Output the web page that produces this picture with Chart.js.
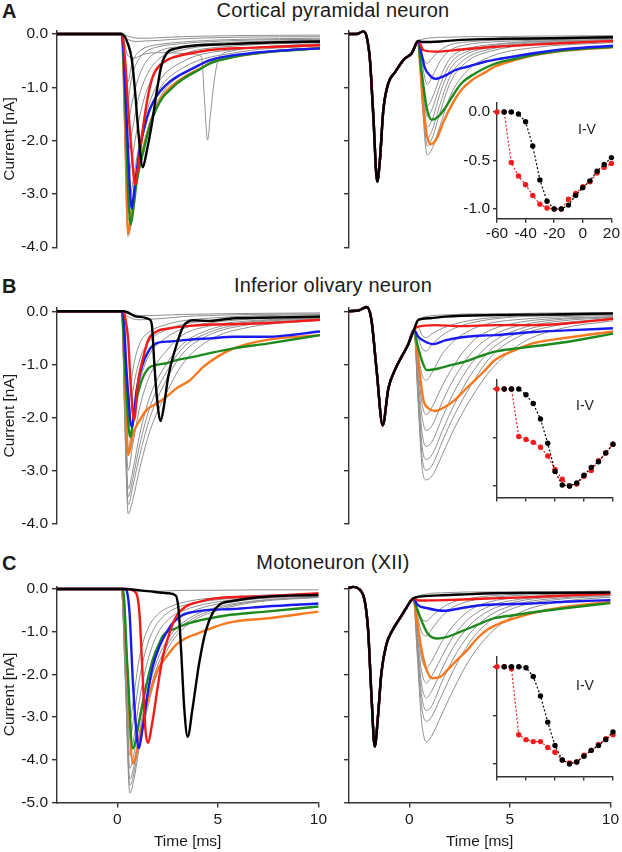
<!DOCTYPE html>
<html>
<head>
<meta charset="utf-8">
<script src="https://cdn.jsdelivr.net/npm/chart.js@4.4.1/dist/chart.umd.min.js"></script>
<style>
  body { margin: 0; background: #fff; width: 622px; height: 852px; position: relative; overflow: hidden;
         font-family: "Liberation Sans", Arial, sans-serif; color: #1a1a1a; }
  canvas { position: absolute; }
  .lbl { position: absolute; white-space: nowrap; }
  .title { font-size: 20px; line-height: 20px; left: 183px; width: 300px; text-align: center; letter-spacing: 0.2px; }
  .letter { font-size: 20px; line-height: 20px; font-weight: bold; left: 2px; }
  .iv { font-size: 14px; line-height: 14px; width: 40px; text-align: center; }
</style>
</head>
<body>
<div class="lbl letter" style="top:1px">A</div>
<div class="lbl title" style="top:0px">Cortical pyramidal neuron</div>
<div class="lbl letter" style="top:276px">B</div>
<div class="lbl title" style="top:275px">Inferior olivary neuron</div>
<div class="lbl letter" style="top:553px">C</div>
<div class="lbl title" style="top:552px">Motoneuron (XII)</div>

<script>
// ---------- tick values ----------
const xTicks = [0, 5, 10];
const yTicksAB = [0, -1, -2, -3, -4];
const yTicksC = [0, -1, -2, -3, -4, -5];
const ivXTicks = [-60, -40, -20, 0, 20];
const ivYTicks = [0, -0.5, -1];

// ---------- A: cortical pyramidal neuron, left (single step) [t ms, I nA] ----------
const aL_black = [[-3,0],[0.2,0],[0.52,-0.2],[0.69,-0.46],[0.86,-1.08],[1.02,-1.83],[1.24,-2.5],[1.43,-2.21],[1.68,-1.71],[1.93,-1.08],[2.17,-0.58],[2.42,-0.36],[2.92,-0.27],[3.74,-0.22],[5.5,-0.19],[7.5,-0.16],[10,-0.14]];
const aL_red = [[-3,0],[0.2,0],[0.36,-0.46],[0.52,-1.39],[0.69,-2.21],[0.86,-2.83],[1.02,-2.46],[1.27,-1.71],[1.51,-1.14],[1.76,-0.77],[2.09,-0.58],[2.59,-0.46],[3.24,-0.39],[3.9,-0.34],[4.56,-0.3],[6.5,-0.26],[8.5,-0.23],[10,-0.21]];
const aL_blue = [[-3,0],[0.2,0],[0.4,-1.2],[0.55,-2.5],[0.69,-3.27],[0.86,-2.8],[1.1,-2.14],[1.43,-1.58],[1.76,-1.27],[2.09,-1.08],[2.59,-0.89],[3.08,-0.77],[3.74,-0.64],[4.56,-0.49],[6.57,-0.36],[8.5,-0.3],[10,-0.27]];
const aL_green = [[-3,0],[0.2,0],[0.4,-1.6],[0.52,-3.0],[0.64,-3.58],[0.8,-3.2],[0.94,-2.77],[1.27,-2.2],[1.6,-1.71],[1.93,-1.39],[2.25,-1.18],[2.59,-1.05],[2.92,-0.93],[3.41,-0.8],[4.07,-0.66],[4.56,-0.55],[5.74,-0.43],[7.39,-0.34],[10,-0.27]];
const aL_orange = [[-3,0],[0.2,0],[0.35,-1.5],[0.52,-3.74],[0.7,-3.3],[0.94,-2.7],[1.27,-2.15],[1.6,-1.68],[1.93,-1.36],[2.25,-1.15],[2.59,-1.0],[2.92,-0.9],[3.41,-0.78],[4.07,-0.65],[4.56,-0.55],[5.74,-0.43],[7.39,-0.34],[10,-0.26]];
const aL_grayT = [-3, 0.2, 0.35, 0.5, 0.7, 1.0, 1.4, 2.0, 3.2, 6, 10];
const aL_gray = [
  [0,0,-0.45,-0.9,-0.55,-0.35,-0.25,-0.2,-0.15,-0.1,-0.08],
  [0,0,-0.6,-1.2,-0.8,-0.5,-0.33,-0.24,-0.18,-0.12,-0.1],
  [0,0,-0.85,-1.7,-1.3,-0.85,-0.52,-0.33,-0.23,-0.15,-0.12],
  [0,0,-1.1,-2.2,-1.85,-1.25,-0.8,-0.48,-0.3,-0.18,-0.14],
  [0,0,-1.35,-2.7,-2.35,-1.7,-1.1,-0.66,-0.38,-0.22,-0.16],
  [0,0,-1.6,-3.2,-2.9,-2.2,-1.5,-0.92,-0.52,-0.28,-0.2],
  [0,0,-1.75,-3.5,-3.2,-2.4,-1.7,-1.08,-0.64,-0.34,-0.22],
  [0,0,-1.9,-3.8,-3.5,-2.6,-1.9,-1.25,-0.75,-0.4,-0.25],
  [0,0,-0.02,-0.04,-0.06,-0.08,-0.08,-0.07,-0.05,-0.03,-0.02],
  [0,0,-0.05,-0.1,-0.13,-0.14,-0.13,-0.12,-0.09,-0.06,-0.05]
];
const aL_graySpike = [[-3,0],[0.2,0],[0.5,-0.4],[0.8,-0.45],[1.3,-0.38],[2,-0.35],[3,-0.36],[3.9,-0.38],[4.15,-0.45],[4.3,-1.3],[4.44,-1.99],[4.6,-1.45],[4.8,-0.8],[5.0,-0.45],[5.5,-0.33],[7,-0.25],[10,-0.18]];

// ---------- A: right (double step) ----------
const aR_pre = [[-3,0],[-2.63,0],[-2.3,0.05],[-2.13,-0.05],[-1.97,-0.48],[-1.8,-1.55],[-1.61,-2.77],[-1.48,-2.37],[-1.31,-1.43],[-1.07,-0.93],[-0.74,-0.72],[-0.3,-0.48],[0.09,-0.36],[0.41,-0.13]];
const aR_black = [[0.6,-0.15],[1.5,-0.14],[2.55,-0.11],[4.5,-0.09],[7,-0.08],[10,-0.06]];
const aR_red = [[0.66,-0.3],[1.24,-0.33],[2.55,-0.29],[4.2,-0.24],[6.1,-0.2],[7.7,-0.17],[10,-0.13]];
const aR_blue = [[0.58,-0.39],[0.74,-0.64],[0.99,-0.78],[1.24,-0.84],[1.73,-0.78],[2.22,-0.68],[2.88,-0.61],[3.7,-0.52],[4.52,-0.46],[6.08,-0.36],[7.72,-0.28],[10,-0.22]];
const aR_green = [[0.5,-0.46],[0.66,-0.96],[0.83,-1.39],[1.07,-1.61],[1.4,-1.55],[1.73,-1.39],[2.14,-1.14],[2.55,-0.92],[3.21,-0.74],[3.86,-0.61],[4.52,-0.52],[5.26,-0.46],[6.08,-0.39],[7.72,-0.3],[10,-0.24]];
const aR_orange = [[0.5,-0.58],[0.66,-1.39],[0.83,-1.89],[1.04,-2.07],[1.32,-1.96],[1.65,-1.65],[2.06,-1.33],[2.55,-1.04],[3.04,-0.87],[3.7,-0.72],[4.19,-0.61],[5.26,-0.48],[6.08,-0.4],[7.72,-0.31],[10,-0.25]];
const aR_grayT = [0.6, 0.85, 1.1, 1.5, 2.0, 2.8, 4.0, 6.0, 10];
const aR_gray = [
  [-0.4,-0.55,-0.45,-0.3,-0.2,-0.15,-0.12,-0.1,-0.07],
  [-0.55,-0.95,-0.8,-0.5,-0.3,-0.2,-0.15,-0.12,-0.08],
  [-0.75,-1.35,-1.2,-0.8,-0.45,-0.28,-0.2,-0.14,-0.1],
  [-0.85,-1.55,-1.4,-0.95,-0.55,-0.33,-0.22,-0.15,-0.11],
  [-0.95,-1.75,-1.6,-1.1,-0.65,-0.38,-0.25,-0.17,-0.12],
  [-1.05,-1.95,-1.8,-1.3,-0.78,-0.45,-0.28,-0.18,-0.13],
  [-1.15,-2.1,-1.95,-1.45,-0.9,-0.52,-0.32,-0.2,-0.14],
  [-1.25,-2.27,-2.15,-1.7,-1.15,-0.7,-0.42,-0.26,-0.16],
  [-0.1,-0.08,-0.07,-0.06,-0.06,-0.05,-0.05,-0.04,-0.03]
];

// ---------- B: inferior olivary neuron, left ----------
const bL_black = [[-3,0],[0.3,0],[0.94,-0.1],[1.6,-0.16],[1.7,-0.3],[1.82,-1.05],[1.95,-1.67],[2.12,-2.07],[2.28,-1.8],[2.5,-1.23],[2.83,-0.73],[3.24,-0.29],[3.74,-0.17],[4.56,-0.18],[5.74,-0.13],[7.5,-0.12],[10,-0.1]];
const bL_red = [[-3,0],[0.25,0],[0.36,-0.1],[0.52,-0.54],[0.64,-1.36],[0.81,-2.05],[1.02,-1.3],[1.27,-0.86],[1.51,-0.54],[1.93,-0.38],[2.59,-0.32],[3.41,-0.28],[4.56,-0.25],[6,-0.24],[7.5,-0.22],[10,-0.16]];
const bL_blue = [[-3,0],[0.25,0],[0.45,-1.2],[0.69,-2.18],[0.94,-1.48],[1.19,-1.05],[1.51,-0.76],[1.93,-0.6],[2.59,-0.57],[3.41,-0.54],[4.56,-0.51],[5.74,-0.48],[7.39,-0.48],[10,-0.38]];
const bL_green = [[-3,0],[0.2,0],[0.38,-1.2],[0.61,-2.37],[0.86,-1.8],[1.19,-1.3],[1.51,-1.08],[1.93,-1.01],[2.42,-0.98],[2.92,-0.92],[3.74,-0.86],[4.56,-0.79],[5.74,-0.7],[7.39,-0.61],[10,-0.45]];
const bL_orange = [[-3,0],[0.2,0],[0.35,-1.2],[0.52,-2.71],[0.77,-2.3],[1.1,-2.05],[1.43,-1.86],[1.93,-1.74],[2.42,-1.61],[2.92,-1.45],[3.57,-1.3],[4.23,-1.05],[4.92,-0.86],[5.74,-0.7],[7.39,-0.54],[10,-0.45]];
const bL_grayT = [-3, 0.2, 0.35, 0.52, 0.75, 1.1, 1.6, 2.4, 3.2, 4.5, 6.5, 10];
const bL_gray = [
  [0,0,-1.0,-1.8,-1.1,-0.6,-0.38,-0.25,-0.18,-0.13,-0.09,-0.06],
  [0,0,-1.2,-2.2,-1.5,-0.9,-0.55,-0.35,-0.25,-0.18,-0.12,-0.08],
  [0,0,-1.4,-2.6,-2.0,-1.3,-0.8,-0.5,-0.33,-0.22,-0.15,-0.1],
  [0,0,-1.6,-3.0,-2.5,-1.8,-1.2,-0.75,-0.45,-0.28,-0.18,-0.12],
  [0,0,-1.8,-3.35,-3.0,-2.3,-1.6,-1.0,-0.62,-0.35,-0.2,-0.13],
  [0,0,-1.9,-3.5,-3.15,-2.5,-1.8,-1.15,-0.7,-0.4,-0.22,-0.14],
  [0,0,-2.0,-3.65,-3.3,-2.7,-2.0,-1.3,-0.8,-0.45,-0.25,-0.15],
  [0,0,-2.1,-3.82,-3.55,-2.95,-2.25,-1.55,-1.0,-0.55,-0.3,-0.17],
  [0,0,-0.02,-0.04,-0.06,-0.08,-0.08,-0.07,-0.06,-0.05,-0.04,-0.03],
  [0,0,-0.05,-0.1,-0.14,-0.16,-0.15,-0.13,-0.1,-0.08,-0.06,-0.05]
];

// ---------- B: right ----------
const bR_pre = [[-3,0],[-2.5,0.02],[-2.13,0.08],[-1.9,-0.15],[-1.64,-1.11],[-1.34,-2.15],[-1.06,-1.45],[-0.73,-1.1],[-0.4,-0.85],[-0.08,-0.62],[0.2,-0.35]];
const bR_black = [[0.41,-0.16],[1.0,-0.13],[1.73,-0.1],[4.19,-0.07],[7,-0.06],[10,-0.04]];
const bR_red = [[0.41,-0.29],[1.24,-0.26],[2.5,-0.28],[4.2,-0.26],[6,-0.26],[7.7,-0.23],[10,-0.14]];
const bR_blue = [[0.41,-0.48],[0.74,-0.57],[1.15,-0.62],[1.73,-0.55],[2.55,-0.49],[3.37,-0.46],[4.19,-0.45],[6.08,-0.39],[7.72,-0.36],[10,-0.32]];
const bR_green = [[0.35,-0.6],[0.58,-0.92],[0.83,-1.11],[1.4,-1.08],[2.06,-1.01],[2.71,-0.95],[3.37,-0.86],[4.19,-0.76],[5.26,-0.7],[6.08,-0.66],[7.72,-0.58],[10,-0.42]];
const bR_orange = [[0.33,-0.67],[0.5,-1.23],[0.66,-1.67],[0.91,-1.83],[1.24,-1.88],[1.73,-1.8],[2.22,-1.67],[2.71,-1.48],[3.21,-1.3],[3.7,-1.11],[4.19,-0.92],[5.26,-0.72],[6.08,-0.6],[7.72,-0.5],[10,-0.38]];
const bR_grayT = [0.4, 0.6, 0.8, 1.1, 1.6, 2.2, 3.0, 4.0, 5.5, 7.5, 10];
const bR_gray = [
  [-0.3,-0.45,-0.5,-0.42,-0.32,-0.24,-0.17,-0.12,-0.09,-0.07,-0.05],
  [-0.5,-0.7,-0.75,-0.62,-0.45,-0.32,-0.22,-0.15,-0.1,-0.08,-0.06],
  [-0.8,-1.2,-1.3,-1.15,-0.8,-0.55,-0.35,-0.22,-0.15,-0.1,-0.08],
  [-1.1,-1.75,-1.95,-1.8,-1.4,-1.0,-0.6,-0.35,-0.2,-0.13,-0.1],
  [-1.25,-2.0,-2.25,-2.15,-1.7,-1.25,-0.8,-0.47,-0.26,-0.15,-0.11],
  [-1.4,-2.3,-2.55,-2.45,-2.0,-1.5,-1.0,-0.6,-0.32,-0.18,-0.12],
  [-1.5,-2.55,-2.8,-2.7,-2.25,-1.75,-1.2,-0.72,-0.38,-0.22,-0.14],
  [-1.6,-2.75,-3.0,-2.9,-2.45,-1.95,-1.4,-0.85,-0.45,-0.25,-0.15],
  [-1.7,-2.95,-3.18,-3.1,-2.7,-2.2,-1.65,-1.1,-0.6,-0.32,-0.18],
  [-0.2,-0.12,-0.1,-0.08,-0.07,-0.06,-0.05,-0.05,-0.04,-0.03,-0.03]
];

// ---------- C: motoneuron (XII), left ----------
const cL_black = [[-3,0],[0.2,0],[1.5,-0.05],[2.5,-0.1],[2.9,-0.15],[3.05,-0.5],[3.18,-1.5],[3.33,-2.8],[3.5,-3.46],[3.74,-2.8],[4.07,-1.74],[4.4,-0.98],[4.73,-0.57],[5.1,-0.36],[5.74,-0.28],[7.39,-0.18],[10,-0.14]];
const cL_red = [[-3,0],[0.5,0],[0.94,-0.1],[1.1,-0.57],[1.27,-2.13],[1.4,-3.3],[1.51,-3.6],[1.76,-3.07],[2.01,-2.29],[2.26,-1.59],[2.59,-1.04],[2.92,-0.65],[3.41,-0.41],[4.07,-0.3],[4.89,-0.22],[7.39,-0.17],[10,-0.1]];
const cL_blue = [[-3,0],[0.4,0],[0.5,-0.1],[0.61,-0.57],[0.77,-2.13],[0.94,-3.3],[1.07,-3.73],[1.27,-3.22],[1.51,-2.44],[1.76,-1.82],[2.09,-1.35],[2.42,-1.04],[2.75,-0.8],[3.24,-0.61],[3.9,-0.53],[4.56,-0.49],[5.74,-0.47],[7.39,-0.41],[10,-0.34]];
const cL_green = [[-3,0],[0.28,0],[0.5,-1.8],[0.77,-3.73],[1.1,-3.07],[1.43,-2.29],[1.76,-1.66],[2.09,-1.27],[2.26,-1.1],[2.92,-0.92],[3.57,-0.8],[4.56,-0.69],[5.39,-0.62],[7.39,-0.53],[10,-0.41]];
const cL_orange = [[-3,0],[0.25,0],[0.5,-2.0],[0.77,-4.08],[1.1,-3.5],[1.43,-2.76],[1.76,-2.21],[2.09,-1.82],[2.5,-1.55],[2.92,-1.31],[3.41,-1.15],[4.07,-1.03],[4.89,-0.88],[5.74,-0.77],[7.39,-0.69],[10,-0.53]];
const cL_grayT = [-3, 0.2, 0.4, 0.62, 0.85, 1.1, 1.5, 2.0, 2.7, 3.6, 5, 7, 10];
const cL_gray = [
  [0,0,-1.3,-3.1,-2.4,-1.6,-0.95,-0.6,-0.4,-0.28,-0.2,-0.15,-0.1],
  [0,0,-1.5,-3.5,-2.9,-2.1,-1.3,-0.8,-0.5,-0.35,-0.25,-0.18,-0.12],
  [0,0,-1.7,-3.9,-3.4,-2.6,-1.7,-1.05,-0.65,-0.45,-0.3,-0.2,-0.14],
  [0,0,-1.9,-4.2,-3.8,-3.0,-2.1,-1.35,-0.85,-0.55,-0.35,-0.23,-0.16],
  [0,0,-2.0,-4.45,-4.1,-3.35,-2.45,-1.65,-1.05,-0.68,-0.42,-0.27,-0.18],
  [0,0,-2.1,-4.6,-4.25,-3.5,-2.6,-1.8,-1.15,-0.74,-0.46,-0.28,-0.19],
  [0,0,-2.2,-4.78,-4.4,-3.7,-2.8,-1.95,-1.25,-0.8,-0.5,-0.3,-0.2],
  [0,0,0,-0.02,-0.04,-0.05,-0.05,-0.05,-0.04,-0.03,-0.03,-0.02,-0.02]
];

// ---------- C: right ----------
const cR_pre = [[-3,0.02],[-2.79,0.05],[-2.5,0],[-2.21,-0.3],[-2.05,-0.96],[-1.88,-2.52],[-1.72,-3.69],[-1.56,-2.99],[-1.39,-1.97],[-1.14,-1.3],[-0.82,-0.95],[-0.49,-0.7],[-0.16,-0.45],[0.2,-0.22]];
const cR_black = [[0.5,-0.18],[1.5,-0.15],[2.55,-0.13],[4.19,-0.1],[7,-0.09],[10,-0.08]];
const cR_red = [[0.5,-0.27],[1.73,-0.26],[3,-0.24],[4.19,-0.22],[6.08,-0.19],[8,-0.15],[10,-0.11]];
const cR_blue = [[0.41,-0.37],[0.91,-0.45],[1.73,-0.51],[2.55,-0.45],[3.54,-0.38],[4.43,-0.36],[6.08,-0.34],[7.72,-0.3],[10,-0.26]];
const cR_green = [[0.35,-0.42],[0.66,-0.8],[0.91,-1.04],[1.4,-1.16],[1.89,-1.12],[2.55,-1.0],[3.37,-0.84],[4.19,-0.69],[5.26,-0.61],[6.08,-0.55],[7.72,-0.45],[10,-0.33]];
const cR_orange = [[0.33,-0.57],[0.58,-1.35],[0.83,-1.86],[1.15,-2.09],[1.56,-2.05],[1.89,-1.9],[2.38,-1.66],[2.88,-1.43],[3.37,-1.16],[3.86,-0.96],[4.52,-0.8],[5.26,-0.68],[6.08,-0.57],[7.72,-0.42],[10,-0.3]];
const cR_grayT = [0.4, 0.6, 0.85, 1.1, 1.6, 2.2, 3.0, 4.0, 5.5, 7.5, 10];
const cR_gray = [
  [-0.45,-0.7,-0.75,-0.65,-0.45,-0.3,-0.22,-0.16,-0.12,-0.1,-0.08],
  [-0.6,-1.0,-1.1,-0.95,-0.65,-0.42,-0.28,-0.2,-0.15,-0.12,-0.1],
  [-0.9,-1.6,-1.85,-1.7,-1.25,-0.85,-0.5,-0.3,-0.2,-0.14,-0.11],
  [-1.05,-1.9,-2.2,-2.05,-1.6,-1.1,-0.68,-0.4,-0.24,-0.16,-0.12],
  [-1.2,-2.2,-2.55,-2.4,-1.9,-1.35,-0.85,-0.5,-0.28,-0.18,-0.13],
  [-1.35,-2.45,-2.85,-2.75,-2.2,-1.62,-1.05,-0.62,-0.34,-0.21,-0.15],
  [-1.45,-2.7,-3.1,-3.0,-2.5,-1.9,-1.25,-0.75,-0.4,-0.24,-0.16],
  [-1.6,-3.05,-3.58,-3.45,-2.95,-2.35,-1.65,-1.05,-0.55,-0.3,-0.19],
  [-0.18,-0.14,-0.12,-0.1,-0.09,-0.08,-0.07,-0.07,-0.06,-0.06,-0.05]
];

// ---------- I-V insets (normalised peak current vs mV) ----------
const ivV = [-60,-55,-50,-45,-40,-35,-30,-25,-20,-15,-10,-5,0,5,10,15,20];
const ivA_black = [null,0,0,-0.02,-0.1,-0.35,-0.7,-0.92,-1.0,-1.0,-0.96,-0.86,-0.78,-0.71,-0.61,-0.54,-0.47];
const ivA_red = [0,0,-0.52,-0.66,-0.75,-0.86,-0.95,-0.99,-1.0,-1.0,-0.9,-0.84,-0.77,-0.72,-0.63,-0.57,-0.53];
const ivB_black = [null,0,0,0,-0.06,-0.15,-0.31,-0.56,-0.85,-0.99,-1.0,-0.97,-0.89,-0.81,-0.75,-0.66,-0.57];
const ivB_red = [0,0,0,-0.49,-0.52,-0.55,-0.6,-0.69,-0.83,-0.93,-1.0,-0.98,-0.9,-0.84,-0.74,-0.66,-0.57];
const ivC_black = [null,0,0,0,-0.01,-0.1,-0.3,-0.57,-0.81,-0.96,-1.0,-0.98,-0.92,-0.86,-0.81,-0.75,-0.67];
const ivC_red = [0,0,-0.02,-0.7,-0.75,-0.77,-0.77,-0.83,-0.88,-0.96,-0.99,-0.98,-0.91,-0.86,-0.8,-0.74,-0.7];

// ---------- styling ----------
const AXIS = '#333';
const TXT = '#1a1a1a';
const GRAY = '#8f8f8f';
const COL = { black: '#000000', red: '#f31a1a', blue: '#1a1af0', green: '#1e8a1e', orange: '#f7791f' };
const FONT = { family: '"Liberation Sans", Arial, sans-serif', size: 15.5 };
Chart.defaults.font.family = FONT.family;

function zip(ts, vs) { return ts.map((t, i) => [t, vs[i]]); }

function trace(list, color, width) {
  return {
    data: list.map(p => ({ x: p[0], y: p[1] })),
    borderColor: color, borderWidth: width, pointRadius: 0,
    cubicInterpolationMode: 'monotone', clip: false, fill: false
  };
}

function ivSet(vals, color) {
  const data = [];
  ivV.forEach((v, i) => { if (vals[i] !== null) data.push({ x: v, y: vals[i] }); });
  return {
    data, borderColor: color, borderWidth: 1.2, borderDash: [2, 2],
    pointRadius: 2.7, pointBackgroundColor: color, pointBorderWidth: 0,
    tension: 0, clip: false, fill: false
  };
}

// place a chart so that its plot area lands on the given page pixels
function place(box, area, yW, xH, config) {
  const c = document.createElement('canvas');
  c.width = box.w; c.height = box.h;
  c.style.left = box.left + 'px'; c.style.top = box.top + 'px';
  c.style.width = box.w + 'px'; c.style.height = box.h + 'px';
  document.body.appendChild(c);
  config.options.layout = { padding: {
    left: 0,
    right: box.left + box.w - area.x1,
    top: area.y0 - box.top,
    bottom: box.top + box.h - area.y1 - xH
  } };
  config.options.scales.y.afterFit = s => { s.width = yW; };
  config.options.scales.x.afterFit = s => { s.height = xH; };
  return new Chart(c.getContext('2d'), config);
}

function axisCommon(tickLen) {
  return {
    grid: { display: true, drawOnChartArea: false, drawTicks: true, tickLength: tickLen, color: AXIS, lineWidth: 1.4 },
    border: { display: true, color: AXIS, width: 1.4 }
  };
}

function tracePanel(side, row, sets) {
  const left = side === 'L';
  const box = left ? { left: 0, w: 330 } : { left: 330, w: 292 };
  box.top = row.top; box.h = row.h;
  const area = {
    x1: left ? 320 : 613,
    y0: row.zero - row.yMax * row.scale,
    y1: row.zero - row.yMin * row.scale
  };
  const yW = (left ? 57 : 349) - box.left;
  const xH = row.showX ? 49 : 0;
  const config = {
    type: 'line',
    data: { datasets: sets },
    options: {
      responsive: false, animation: false, devicePixelRatio: 1,
      plugins: { legend: { display: false }, tooltip: { enabled: false } },
      scales: {
        x: Object.assign(axisCommon(5), {
          type: 'linear', min: -3, max: 10, display: row.showX,
          afterBuildTicks: s => { s.ticks = xTicks.map(v => ({ value: v })); },
          ticks: { font: FONT, color: TXT, padding: 3, maxRotation: 0 },
          title: { display: true, text: 'Time [ms]', font: FONT, color: TXT, padding: 0 }
        }),
        y: Object.assign(axisCommon(5), {
          type: 'linear', min: row.yMin, max: row.yMax,
          afterBuildTicks: s => { s.ticks = row.yTicks.map(v => ({ value: v })); },
          ticks: { font: FONT, color: TXT, padding: 4, callback: v => left ? v.toFixed(1) : '' },
          title: { display: left, text: 'Current [nA]', font: FONT, color: TXT, padding: 0 }
        })
      }
    }
  };
  return place(box, area, yW, xH, config);
}

function leftSets(black, red, blue, green, orange, grayT, grays, extra) {
  const s = [trace(black, COL.black, 2.4), trace(red, COL.red, 2.4), trace(blue, COL.blue, 2.4),
             trace(green, COL.green, 2.4), trace(orange, COL.orange, 2.4)];
  grays.forEach(g => s.push(trace(zip(grayT, g), GRAY, 1)));
  (extra || []).forEach(e => s.push(trace(e, GRAY, 1)));
  return s;
}

function rightSets(pre, black, red, blue, green, orange, grayT, grays) {
  const s = [trace(pre.concat(black), COL.black, 2.4), trace(pre.concat(red), COL.red, 2.4),
             trace(pre.concat(blue), COL.blue, 2.4), trace(pre.concat(green), COL.green, 2.4),
             trace(pre.concat(orange), COL.orange, 2.4)];
  grays.forEach(g => s.push(trace(pre.concat(zip(grayT, g)), GRAY, 1)));
  return s;
}

const rowA = { top: 14, h: 250, zero: 34, scale: 53.3, yMax: 0.06, yMin: -4, yTicks: yTicksAB, showX: false };
const rowB = { top: 290, h: 250, zero: 311.3, scale: 53, yMax: 0.06, yMin: -4, yTicks: yTicksAB, showX: false };
const rowC = { top: 568, h: 284, zero: 589, scale: 42.7, yMax: 0.06, yMin: -5, yTicks: yTicksC, showX: true };

tracePanel('L', rowA, leftSets(aL_black, aL_red, aL_blue, aL_green, aL_orange, aL_grayT, aL_gray, [aL_graySpike]));
tracePanel('R', rowA, rightSets(aR_pre, aR_black, aR_red, aR_blue, aR_green, aR_orange, aR_grayT, aR_gray));
tracePanel('L', rowB, leftSets(bL_black, bL_red, bL_blue, bL_green, bL_orange, bL_grayT, bL_gray));
tracePanel('R', rowB, rightSets(bR_pre, bR_black, bR_red, bR_blue, bR_green, bR_orange, bR_grayT, bR_gray));
tracePanel('L', rowC, leftSets(cL_black, cL_red, cL_blue, cL_green, cL_orange, cL_grayT, cL_gray));
tracePanel('R', rowC, rightSets(cR_pre, cR_black, cR_red, cR_blue, cR_green, cR_orange, cR_grayT, cR_gray));

// ---------- insets ----------
function inset(box, area, labels, black, red) {
  const yW = 497 - box.left;
  const xH = labels ? 22 : 8;
  const config = {
    type: 'line',
    data: { datasets: [ivSet(black, COL.black), ivSet(red, COL.red)] },
    options: {
      responsive: false, animation: false, devicePixelRatio: 1,
      plugins: { legend: { display: false }, tooltip: { enabled: false } },
      scales: {
        x: Object.assign(axisCommon(4), {
          type: 'linear', min: -60, max: 20,
          afterBuildTicks: s => { s.ticks = ivXTicks.map(v => ({ value: v })); },
          ticks: { font: FONT, color: TXT, padding: 2, maxRotation: 0, display: labels }
        }),
        y: Object.assign(axisCommon(4), {
          type: 'linear', min: area.min, max: 0.1,
          afterBuildTicks: s => { s.ticks = ivYTicks.map(v => ({ value: v })); },
          ticks: { font: FONT, color: TXT, padding: 3, display: labels, callback: v => v.toFixed(1) }
        })
      }
    }
  };
  return place(box, area, yW, xH, config);
}

inset({ left: 450, top: 85, w: 172, h: 160 }, { x1: 613, y0: 102.3, y1: 218.7, min: -1.1 }, true, ivA_black, ivA_red);
inset({ left: 480, top: 365, w: 142, h: 145 }, { x1: 613, y0: 379.3, y1: 497.6, min: -1.12 }, false, ivB_black, ivB_red);
inset({ left: 480, top: 645, w: 142, h: 145 }, { x1: 613, y0: 657, y1: 776.6, min: -1.13 }, false, ivC_black, ivC_red);
</script>
<div class="lbl iv" style="left:567px;top:122px">I-V</div>
<div class="lbl iv" style="left:565px;top:398px">I-V</div>
<div class="lbl iv" style="left:565px;top:678px">I-V</div>
</body>
</html>
